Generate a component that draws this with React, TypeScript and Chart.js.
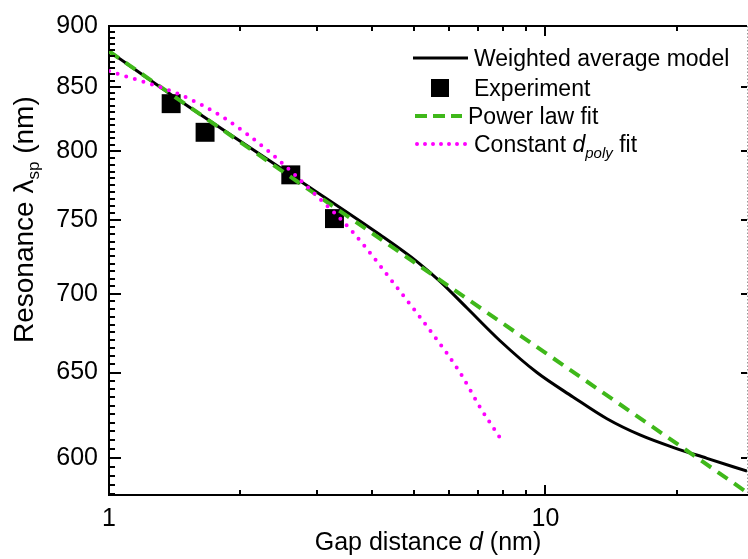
import React, { useEffect, useRef } from "react";
import { Chart, registerables } from "chart.js";

Chart.register(...registerables);

const FONT = "'Liberation Sans', Arial, Helvetica, sans-serif";

// Weighted average model (black solid line)
const modelGap = [1, 1.388, 2.557, 4.178, 5.077, 5.732, 6.61, 7.867, 9.56, 11.56, 13.83, 16.46, 19.59, 23.44, 28.95];
const modelRes = [878.9, 843.8, 784.5, 739.8, 721.4, 708.1, 690.6, 669.7, 650.0, 635.3, 622.4, 613.0, 605.9, 599.7, 592.5];

// Experiment (black squares)
const expGap = [1.388, 1.66, 2.609, 3.285];
const expRes = [836.7, 814.5, 782.6, 751.1];

// Power law fit (green dashed)
const powerGap = [1, 3, 10, 20, 28.95];
const powerRes = [878.9, 767.7, 662.1, 608.0, 580.8];

// Constant d_poly fit (magenta dotted)
const polyGap = [1, 1.454, 1.825, 2.338, 3.044, 3.566, 4.642, 5.525, 6.37, 7.079, 7.867];
const polyRes = [862.7, 843.8, 826.1, 799.2, 765.0, 743.9, 701.5, 673.7, 650.0, 629.2, 611.3];

// Axis ticks
const xTickValues = [1, 10];
const xMinorValues = [2, 3, 4, 5, 6, 7, 8, 9, 20];
const yTickValues = [600, 650, 700, 750, 800, 850, 900];
const yMinorStep = 5;

const X_MIN = 1;
const X_MAX = 28.95;
const Y_MIN = 579.4;
const Y_MAX = 900;

const pts = (xs: number[], ys: number[]) => xs.map((x, i) => ({ x, y: ys[i] }));

type Run = { t: string; italic?: boolean; size: number; dy?: number };

function runsWidth(ctx: CanvasRenderingContext2D, runs: Run[]) {
  let w = 0;
  for (const r of runs) {
    ctx.font = `${r.italic ? "italic " : ""}${r.size}px ${FONT}`;
    w += ctx.measureText(r.t).width;
  }
  return w;
}

function drawRuns(ctx: CanvasRenderingContext2D, runs: Run[], x: number, y: number) {
  for (const r of runs) {
    ctx.font = `${r.italic ? "italic " : ""}${r.size}px ${FONT}`;
    ctx.fillText(r.t, x, y + (r.dy || 0));
    x += ctx.measureText(r.t).width;
  }
}

const framePlugin = {
  id: "frameTicks",
  afterDraw(chart: any) {
    const { ctx, chartArea: a, scales } = chart;
    const xs = scales.x;
    const ys = scales.y;
    ctx.save();
    ctx.strokeStyle = "#000";
    ctx.lineWidth = 2;
    ctx.lineCap = "butt";
    // top frame line
    ctx.beginPath();
    ctx.moveTo(a.left - 1, a.top);
    ctx.lineTo(a.right, a.top);
    ctx.stroke();
    // right dotted edge
    ctx.save();
    ctx.strokeStyle = "#9a9a9a";
    ctx.lineWidth = 1;
    ctx.setLineDash([1.5, 2]);
    ctx.beginPath();
    ctx.moveTo(a.right + 0.5, a.top);
    ctx.lineTo(a.right + 0.5, a.bottom);
    ctx.stroke();
    ctx.restore();
    // x ticks (bottom and top, inward)
    const xt: [number, number][] = [
      ...xTickValues.map((v) => [v, 10] as [number, number]),
      ...xMinorValues.map((v) => [v, 5] as [number, number]),
    ];
    for (const [v, len] of xt) {
      const px = Math.round(xs.getPixelForValue(v));
      ctx.beginPath();
      ctx.moveTo(px, a.bottom);
      ctx.lineTo(px, a.bottom - len);
      ctx.moveTo(px, a.top);
      ctx.lineTo(px, a.top + len);
      ctx.stroke();
    }
    // y ticks (left with minors, right majors only)
    const start = Math.ceil(Y_MIN / yMinorStep) * yMinorStep;
    for (let v = start; v <= Y_MAX; v += yMinorStep) {
      const major = yTickValues.includes(v);
      const py = Math.round(ys.getPixelForValue(v));
      ctx.beginPath();
      ctx.moveTo(a.left, py);
      ctx.lineTo(a.left + (major ? 12 : 6), py);
      if (major) {
        ctx.moveTo(a.right, py);
        ctx.lineTo(a.right - 6, py);
      }
      ctx.stroke();
    }
    ctx.restore();
  },
};

const textPlugin = {
  id: "textDecor",
  afterDraw(chart: any) {
    const { ctx, chartArea: a, data } = chart;
    ctx.save();
    ctx.fillStyle = "#000";
    ctx.textBaseline = "alphabetic";
    ctx.textAlign = "left";

    // X title
    const xRuns: Run[] = [
      { t: "Gap distance ", size: 25 },
      { t: "d", size: 25, italic: true },
      { t: " (nm)", size: 25 },
    ];
    const xw = runsWidth(ctx, xRuns);
    drawRuns(ctx, xRuns, (a.left + a.right) / 2 - xw / 2, 550);

    // Y title (rotated)
    const yRuns: Run[] = [
      { t: "Resonance ", size: 28 },
      { t: "\u03bb", size: 28 },
      { t: "sp", size: 17, dy: 6 },
      { t: " (nm)", size: 28 },
    ];
    ctx.save();
    ctx.translate(33, 343);
    ctx.rotate(-Math.PI / 2);
    drawRuns(ctx, yRuns, 0, 0);
    ctx.restore();

    // Legend
    const ds = data.datasets;
    const lx0 = 413;
    const rows = [58, 88, 116, 144];
    // row 1: weighted model line
    ctx.save();
    ctx.strokeStyle = ds[3].borderColor;
    ctx.lineWidth = ds[3].borderWidth;
    ctx.beginPath();
    ctx.moveTo(lx0, rows[0]);
    ctx.lineTo(468, rows[0]);
    ctx.stroke();
    ctx.restore();
    drawRuns(ctx, [{ t: "Weighted average model", size: 23 }], 474, rows[0] + 8);
    // row 2: experiment square
    ctx.fillStyle = ds[2].backgroundColor;
    ctx.fillRect(431, rows[1] - 9, 18, 18);
    ctx.fillStyle = "#000";
    drawRuns(ctx, [{ t: "Experiment", size: 23 }], 474, rows[1] + 8);
    // row 3: power law dashed
    ctx.save();
    ctx.strokeStyle = ds[1].borderColor;
    ctx.lineWidth = ds[1].borderWidth;
    ctx.setLineDash([12, 6]);
    ctx.beginPath();
    ctx.moveTo(lx0 + 2, rows[2]);
    ctx.lineTo(462, rows[2]);
    ctx.stroke();
    ctx.restore();
    drawRuns(ctx, [{ t: "Power law fit", size: 23 }], 468, rows[2] + 8);
    // row 4: dotted
    ctx.save();
    ctx.strokeStyle = ds[0].borderColor;
    ctx.lineWidth = ds[0].borderWidth;
    ctx.lineCap = "round";
    ctx.setLineDash([0, 8]);
    ctx.beginPath();
    ctx.moveTo(lx0 + 4, rows[3]);
    ctx.lineTo(466, rows[3]);
    ctx.stroke();
    ctx.restore();
    drawRuns(
      ctx,
      [
        { t: "Constant ", size: 23 },
        { t: "d", size: 23, italic: true },
        { t: "poly", size: 15, italic: true, dy: 6 },
        { t: " fit", size: 23 },
      ],
      474,
      rows[3] + 8
    );
    ctx.restore();
  },
};

export default function App() {
  const ref = useRef<HTMLCanvasElement | null>(null);
  useEffect(() => {
    document.body.style.margin = "0";
    const canvas = ref.current!;
    const chart = new Chart(canvas, {
      type: "scatter",
      data: {
        datasets: [
          {
            label: "Constant d_poly fit",
            data: pts(polyGap, polyRes),
            showLine: true,
            borderColor: "#ff00ff",
            backgroundColor: "#ff00ff",
            borderWidth: 4,
            borderDash: [0, 9],
            borderCapStyle: "round",
            pointRadius: 0,
            cubicInterpolationMode: "monotone",
          },
          {
            label: "Power law fit",
            data: pts(powerGap, powerRes),
            showLine: true,
            borderColor: "#3fb81a",
            backgroundColor: "#3fb81a",
            borderWidth: 4,
            borderDash: [12, 8],
            pointRadius: 0,
            tension: 0,
          },
          {
            label: "Experiment",
            data: pts(expGap, expRes),
            showLine: false,
            pointStyle: "rect",
            pointRadius: 13.4,
            borderWidth: 0,
            backgroundColor: "#000",
            borderColor: "#000",
          },
          {
            label: "Weighted average model",
            data: pts(modelGap, modelRes),
            showLine: true,
            borderColor: "#000",
            backgroundColor: "#000",
            borderWidth: 3,
            pointRadius: 0,
            cubicInterpolationMode: "monotone",
          },
        ],
      } as any,
      options: {
        responsive: false,
        animation: false,
        devicePixelRatio: 1,
        events: [],
        layout: { padding: { top: 22, right: 1, left: 0, bottom: 0 }, autoPadding: false },
        plugins: { legend: { display: false }, tooltip: { enabled: false }, title: { display: false } },
        scales: {
          x: {
            type: "logarithmic",
            position: "bottom",
            min: X_MIN,
            max: X_MAX,
            afterBuildTicks: (s: any) => {
              s.ticks = xTickValues.map((v) => ({ value: v }));
            },
            afterFit: (s: any) => {
              s.height = 64;
            },
            grid: { display: false, drawTicks: false },
            border: { display: true, color: "#000", width: 2 },
            ticks: {
              color: "#000",
              font: { family: FONT, size: 25 },
              padding: 9,
              maxRotation: 0,
              autoSkip: false,
              callback: (v: any) => String(v),
            },
          },
          y: {
            type: "logarithmic",
            position: "left",
            min: Y_MIN,
            max: Y_MAX,
            afterBuildTicks: (s: any) => {
              s.ticks = yTickValues.map((v) => ({ value: v }));
            },
            afterFit: (s: any) => {
              s.width = 109;
            },
            grid: { display: false, drawTicks: false },
            border: { display: true, color: "#000", width: 2 },
            ticks: {
              color: "#000",
              font: { family: FONT, size: 25 },
              padding: 11,
              autoSkip: false,
              callback: (v: any) => String(v),
            },
          },
        },
      } as any,
      plugins: [framePlugin, textPlugin],
    });
    return () => chart.destroy();
  }, []);
  return (
    <div style={{ width: 748, height: 559, background: "#fff" }}>
      <canvas ref={ref} width={748} height={559} style={{ display: "block" }} />
    </div>
  );
}
